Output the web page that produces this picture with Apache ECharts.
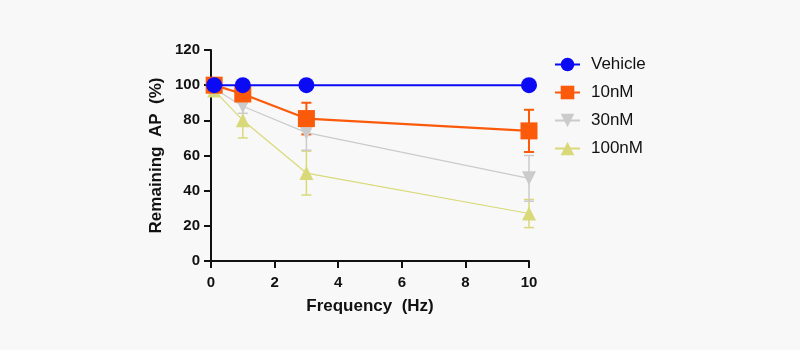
<!DOCTYPE html>
<html>
<head>
<meta charset="utf-8">
<script src="https://cdn.jsdelivr.net/npm/echarts@6/dist/echarts.min.js"></script>
<style>
  html, body { margin: 0; padding: 0; background: #f8f8f8; }
  #chart { width: 800px; height: 350px; }
</style>
</head>
<body>
<div id="chart"></div>
<script>
// frequencies (Hz)
const freqs = [0.1, 1, 3, 10];

// mean values (%)
const vehicle = [100, 100, 100, 100];
const nM10 = [100, 95, 81, 74];
const nM30 = [98, 88, 73, 47];
const nM100 = [97, 80, 50, 27];

// error bars (+/-)
const err10 = [0, 2, 9, 12];
const err30 = [0, 4, 10, 13];
const err100 = [0, 10, 12.5, 8];

const names = ["Vehicle", "10nM", "30nM", "100nM"];
const colors = ["#0a0af5", "#fa5a0a", "#cbcbcb", "#d9d97a"];

const chart = echarts.init(document.getElementById("chart"));

function pts(vals) {
  return freqs.map((f, i) => [f, vals[i]]);
}

function errSeries(vals, errs, color, width) {
  return {
    type: "custom",
    silent: true,
    z: 1,
    data: freqs.map((f, i) => [f, vals[i] - errs[i], vals[i] + errs[i]]),
    renderItem: function (params, api) {
      const lo = api.coord([api.value(0), api.value(1)]);
      const hi = api.coord([api.value(0), api.value(2)]);
      const c = 5;
      const style = { stroke: color, lineWidth: width };
      return {
        type: "group",
        children: [
          { type: "line", shape: { x1: lo[0], y1: lo[1], x2: hi[0], y2: hi[1] }, style: style },
          { type: "line", shape: { x1: lo[0] - c, y1: lo[1], x2: lo[0] + c, y2: lo[1] }, style: style },
          { type: "line", shape: { x1: hi[0] - c, y1: hi[1], x2: hi[0] + c, y2: hi[1] }, style: style }
        ]
      };
    }
  };
}

const font = "Liberation Sans";
const nameStyle = { fontSize: 17, fontWeight: "bold", color: "#111", fontFamily: font };

const option = {
  animation: false,
  backgroundColor: "#f8f8f8",
  grid: { left: 211, right: 271, top: 50, bottom: 89 },
  legend: {
    left: 549,
    top: 51,
    orient: "vertical",
    itemGap: 11,
    itemWidth: 25,
    itemHeight: 17,
    textStyle: { fontSize: 17, color: "#111", fontFamily: font, padding: [0, 0, 0, 6] },
    data: names
  },
  xAxis: {
    type: "value",
    min: 0,
    max: 10,
    interval: 2,
    name: "Frequency  (Hz)",
    nameLocation: "middle",
    nameGap: 37,
    nameTextStyle: nameStyle,
    axisLine: { lineStyle: { color: "#111", width: 2 } },
    axisTick: { length: 7, lineStyle: { color: "#111", width: 2 } },
    axisLabel: { color: "#111", fontSize: 15, fontWeight: "bold", fontFamily: font, margin: 14 },
    splitLine: { show: false }
  },
  yAxis: {
    type: "value",
    min: 0,
    max: 120,
    interval: 20,
    name: "Remaining  AP  (%)",
    nameLocation: "middle",
    nameGap: 46,
    nameTextStyle: nameStyle,
    axisLine: { show: true, lineStyle: { color: "#111", width: 2 } },
    axisTick: { show: true, length: 7, lineStyle: { color: "#111", width: 2 } },
    axisLabel: { color: "#111", fontSize: 15, fontWeight: "bold", fontFamily: font, margin: 11 },
    splitLine: { show: false }
  },
  series: [
    errSeries(nM100, err100, colors[3], 1.5),
    errSeries(nM30, err30, colors[2], 1.5),
    errSeries(nM10, err10, colors[1], 2),
    {
      name: names[3], type: "line", data: pts(nM100), z: 2,
      symbol: "triangle", symbolSize: 14,
      lineStyle: { color: colors[3], width: 1.2 },
      itemStyle: { color: colors[3] }
    },
    {
      name: names[2], type: "line", data: pts(nM30), z: 3,
      symbol: "triangle", symbolRotate: 180, symbolSize: 14,
      lineStyle: { color: colors[2], width: 1.2 },
      itemStyle: { color: colors[2] }
    },
    {
      name: names[1], type: "line", data: pts(nM10), z: 4,
      symbol: "rect", symbolSize: 17,
      lineStyle: { color: colors[1], width: 2.2 },
      itemStyle: { color: colors[1] }
    },
    {
      name: names[0], type: "line", data: pts(vehicle), z: 5,
      symbol: "circle", symbolSize: 16,
      lineStyle: { color: colors[0], width: 2 },
      itemStyle: { color: colors[0] }
    }
  ]
};

chart.setOption(option);
</script>
</body>
</html>
